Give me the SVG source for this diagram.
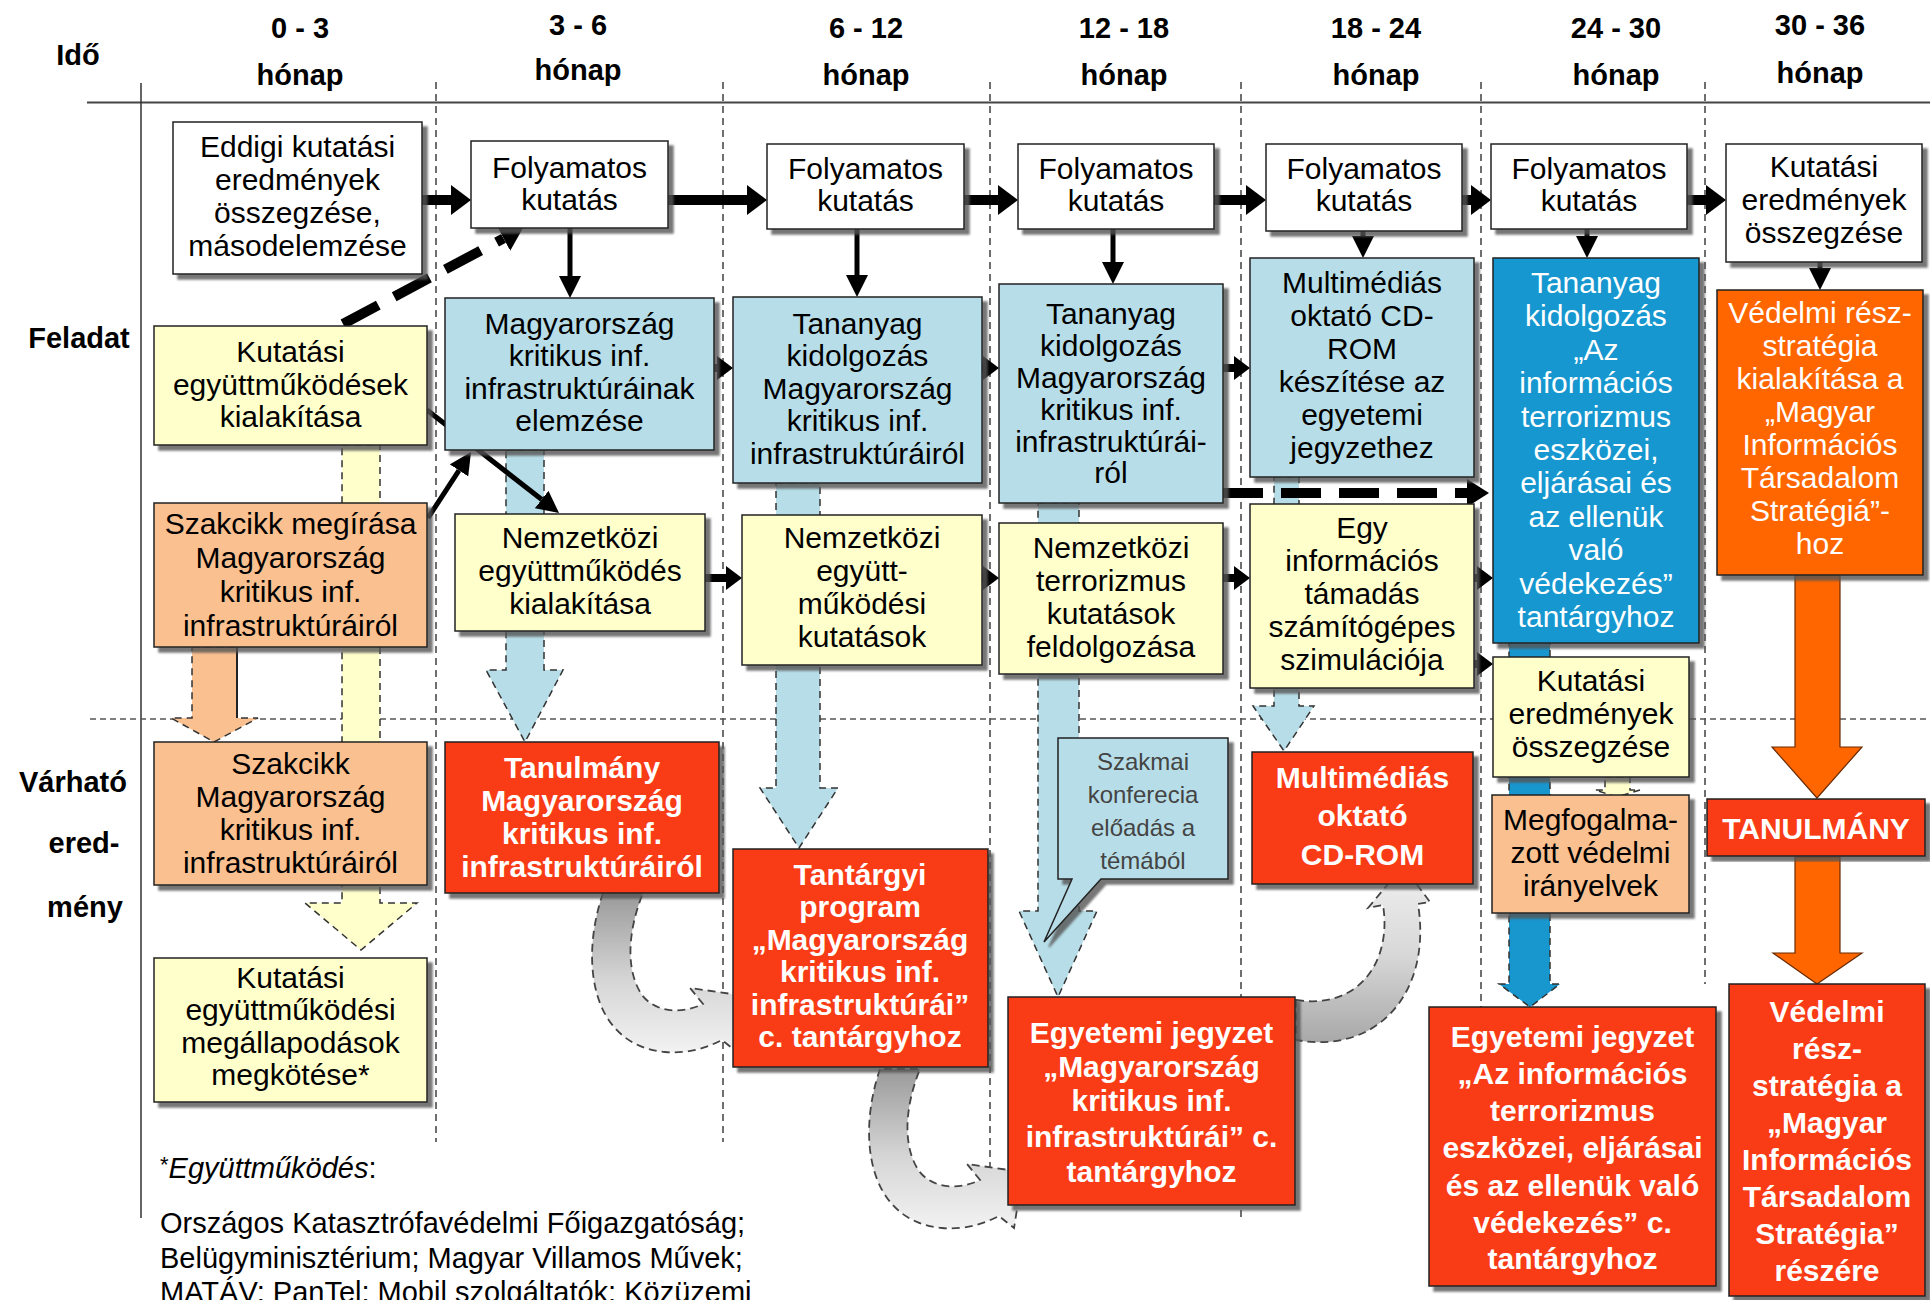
<svg xmlns="http://www.w3.org/2000/svg" width="1930" height="1300" viewBox="0 0 1930 1300">
<defs>
<style>
.bx{stroke:#222;stroke-width:1.5;filter:url(#sh)}
.w{fill:#fff}.y{fill:#ffffcc}.lb{fill:#b7dee8}.db{fill:#1897cf}.pc{fill:#fac090}.rd{fill:#f93b12}.or{fill:#ff6600}
.t{font-family:"Liberation Sans",Arial,sans-serif;font-size:30px;text-anchor:middle;fill:#000}
.tw{fill:#fff}
.tb{font-weight:bold;fill:#fff}
.hd{font-family:"Liberation Sans",Arial,sans-serif;font-size:29px;font-weight:bold;text-anchor:middle;fill:#000}
.cl{font-family:"Liberation Sans",Arial,sans-serif;font-size:24px;text-anchor:middle;fill:#444}
.fn{font-family:"Liberation Sans",Arial,sans-serif;font-size:29px;fill:#000}
.div{stroke:#222;stroke-width:1.3;stroke-dasharray:7 5;fill:none}
.ba{stroke:#333;stroke-width:1.5;stroke-dasharray:7 5}
.ora{fill:#ff6600;stroke:#6a2a00;stroke-width:1.2}
.k10{stroke:#000;stroke-width:10;fill:none}
.k5{stroke:#000;stroke-width:5;fill:none}
.k8{stroke:#000;stroke-width:8;fill:none}
.kd{stroke:#000;stroke-width:10;fill:none;stroke-dasharray:40 18}
.ga{stroke:#444;stroke-width:1.8;stroke-dasharray:8 5}
</style>
<filter id="sh" x="-5%" y="-5%" width="115%" height="115%">
<feDropShadow dx="5" dy="5" stdDeviation="1.2" flood-color="#555" flood-opacity="0.8"/>
</filter>
<linearGradient id="gg1" x1="0" y1="0" x2="0" y2="1">
<stop offset="0" stop-color="#9a9a9a"/><stop offset="0.55" stop-color="#d6d6d6"/><stop offset="1" stop-color="#f2f2f2"/>
</linearGradient>
<linearGradient id="gg2" x1="0" y1="1" x2="0" y2="0">
<stop offset="0" stop-color="#a8a8a8"/><stop offset="0.5" stop-color="#d8d8d8"/><stop offset="1" stop-color="#f0f0f0"/>
</linearGradient>
<marker id="ah" markerUnits="userSpaceOnUse" markerWidth="20" markerHeight="30" refX="0" refY="15" orient="auto" viewBox="0 0 20 30"><path d="M0,0 L20,15 L0,30 Z" fill="#000"/></marker>
<marker id="av" markerUnits="userSpaceOnUse" markerWidth="22" markerHeight="22" refX="0" refY="11" orient="auto" viewBox="0 0 22 22"><path d="M0,0 L22,11 L0,22 Z" fill="#000"/></marker>
<marker id="as" markerUnits="userSpaceOnUse" markerWidth="16" markerHeight="24" refX="0" refY="12" orient="auto" viewBox="0 0 16 24"><path d="M0,0 L16,12 L0,24 Z" fill="#000"/></marker>
<marker id="ad" markerUnits="userSpaceOnUse" markerWidth="22" markerHeight="28" refX="0" refY="14" orient="auto" viewBox="0 0 22 28"><path d="M0,0 L22,14 L0,28 Z" fill="#000"/></marker>
</defs>
<rect width="1930" height="1300" fill="#fff"/>

<g id="grid">
<line x1="87" y1="102.5" x2="1930" y2="102.5" stroke="#444" stroke-width="2"/>
<line x1="141" y1="83" x2="141" y2="1218" stroke="#333" stroke-width="1.5"/>
<line class="div" x1="436" y1="82" x2="436" y2="1142"/>
<line class="div" x1="723" y1="82" x2="723" y2="1142"/>
<line class="div" x1="990" y1="82" x2="990" y2="1222"/>
<line class="div" x1="1241" y1="82" x2="1241" y2="1222"/>
<line class="div" x1="1481" y1="82" x2="1481" y2="1007"/>
<line class="div" x1="1705" y1="82" x2="1705" y2="984"/>
<line x1="90" y1="719" x2="1930" y2="719" stroke="#555" stroke-width="1.5" stroke-dasharray="6 4"/>
</g>

<g id="labels">
<text class="hd" x="78" y="65">Idő</text>
<text class="hd" x="79" y="348">Feladat</text>
<text class="hd" x="73" y="792">Várható</text>
<text class="hd" x="84" y="853">ered-</text>
<text class="hd" x="85" y="917">mény</text>
<text class="hd" x="300" y="38">0 - 3</text><text class="hd" x="300" y="85">hónap</text>
<text class="hd" x="578" y="35">3 - 6</text><text class="hd" x="578" y="80">hónap</text>
<text class="hd" x="866" y="38">6 - 12</text><text class="hd" x="866" y="85">hónap</text>
<text class="hd" x="1124" y="38">12 - 18</text><text class="hd" x="1124" y="85">hónap</text>
<text class="hd" x="1376" y="38">18 - 24</text><text class="hd" x="1376" y="85">hónap</text>
<text class="hd" x="1616" y="38">24 - 30</text><text class="hd" x="1616" y="85">hónap</text>
<text class="hd" x="1820" y="35">30 - 36</text><text class="hd" x="1820" y="83">hónap</text>
</g>

<g id="connectors">
<path class="y ba" d="M342,445 L380,445 L380,903 L417,903 L361,950 L305,903 L342,903 Z"/>
<path class="pc ba" d="M192,647 L237,647 L237,718 L258,718 L214,742 L171,718 L192,718 Z"/>
<line x1="237" y1="647" x2="237" y2="718" stroke="#222" stroke-width="2"/>
<path class="lb ba" d="M506,450 L544,450 L544,670 L563,670 L525,742 L486,670 L506,670 Z"/>
<path class="lb ba" d="M776,483 L820,483 L820,788 L838,788 L799,848 L760,788 L776,788 Z"/>
<path class="lb ba" d="M1038,503 L1079,503 L1079,911 L1097,911 L1058,997 L1019,911 L1038,911 Z"/>
<path class="lb ba" d="M1274,477 L1299,477 L1299,706 L1314,706 L1284,751 L1253,706 L1274,706 Z"/>
<path class="db ba" d="M1509,643 L1550,643 L1550,984 L1560,984 L1530,1007 L1499,984 L1509,984 Z"/>
<path class="y ba" d="M1605,777 L1630,777 L1630,790 L1640,790 L1617,797 L1595,790 L1605,790 Z"/>
<path class="ora" d="M1795,575 L1840,575 L1840,747 L1862,747 L1817,798 L1772,747 L1795,747 Z"/>
<path class="ora" d="M1795,857 L1840,857 L1840,953 L1862,953 L1817,984 L1773,953 L1795,953 Z"/>
<path fill="url(#gg1)" class="ga" d="M603,893 C580,960 590,1045 665,1052 C690,1054 708,1047 722,1040 L737,1052 L746,996 L690,988 L703,1004 C680,1015 655,1012 642,995 C625,970 628,930 643,893 Z"/>
<path fill="url(#gg1)" class="ga" transform="translate(277,176)" d="M603,893 C580,960 590,1045 665,1052 C690,1054 708,1047 722,1040 L737,1052 L746,996 L690,988 L703,1004 C680,1015 655,1012 642,995 C625,970 628,930 643,893 Z"/>
<path fill="url(#gg2)" class="ga" d="M1296,1000 C1360,1010 1392,960 1383,905 L1368,908 L1403,866 L1430,902 L1418,904 C1432,990 1380,1055 1296,1040 Z"/>
<line class="k10" x1="422" y1="200" x2="451" y2="200" marker-end="url(#ah)"/>
<line class="k10" x1="668" y1="200" x2="747" y2="200" marker-end="url(#ah)"/>
<line class="k10" x1="964" y1="200" x2="998" y2="200" marker-end="url(#ah)"/>
<line class="k10" x1="1214" y1="200" x2="1246" y2="200" marker-end="url(#ah)"/>
<line class="k10" x1="1462" y1="200" x2="1471" y2="200" marker-end="url(#ah)"/>
<line class="k10" x1="1687" y1="200" x2="1706" y2="200" marker-end="url(#ah)"/>
<line class="k5" x1="570" y1="228" x2="570" y2="276" marker-end="url(#av)"/>
<line class="k5" x1="857" y1="229" x2="857" y2="275" marker-end="url(#av)"/>
<line class="k5" x1="1113" y1="229" x2="1113" y2="262" marker-end="url(#av)"/>
<line class="k5" x1="1363" y1="231" x2="1363" y2="236" marker-end="url(#av)"/>
<line class="k5" x1="1587" y1="229" x2="1587" y2="236" marker-end="url(#av)"/>
<line class="k5" x1="1820" y1="262" x2="1820" y2="268" marker-end="url(#av)"/>
<line class="k8" x1="714" y1="368" x2="717" y2="368" marker-end="url(#as)"/>
<line class="k8" x1="982" y1="368" x2="983" y2="368" marker-end="url(#as)"/>
<line class="k8" x1="1223" y1="368" x2="1234" y2="368" marker-end="url(#as)"/>
<line class="k8" x1="705" y1="578" x2="726" y2="578" marker-end="url(#as)"/>
<line class="k8" x1="982" y1="578" x2="983" y2="578" marker-end="url(#as)"/>
<line class="k8" x1="1223" y1="578" x2="1234" y2="578" marker-end="url(#as)"/>
<line class="k8" x1="1474" y1="578" x2="1477" y2="578" marker-end="url(#as)"/>
<line class="k8" x1="1474" y1="664" x2="1477" y2="664" marker-end="url(#as)"/>
<line class="k5" x1="427" y1="410" x2="541.7" y2="499.5" marker-end="url(#av)"/>
<line class="k5" x1="428" y1="518" x2="459" y2="470.4" marker-end="url(#av)"/>
<line class="kd" x1="343" y1="324" x2="503.6" y2="238.4" marker-end="url(#ad)"/>
<line class="kd" x1="1223" y1="493" x2="1467" y2="493" marker-end="url(#ad)"/>
</g>

<g id="n-eddigi"><rect class="bx w" x="173" y="122" width="249" height="152"/>
<text class="t"><tspan x="297.5" y="157">Eddigi kutatási</tspan><tspan x="297.5" y="190">eredmények</tspan><tspan x="297.5" y="223">összegzése,</tspan><tspan x="297.5" y="256">másodelemzése</tspan></text></g>
<g id="n-foly1"><rect class="bx w" x="471" y="141" width="197" height="87"/>
<text class="t"><tspan x="569.5" y="178">Folyamatos</tspan><tspan x="569.5" y="210">kutatás</tspan></text></g>
<g id="n-foly2"><rect class="bx w" x="767" y="144" width="197" height="85"/>
<text class="t"><tspan x="865.5" y="179">Folyamatos</tspan><tspan x="865.5" y="211">kutatás</tspan></text></g>
<g id="n-foly3"><rect class="bx w" x="1018" y="144" width="196" height="85"/>
<text class="t"><tspan x="1116" y="179">Folyamatos</tspan><tspan x="1116" y="211">kutatás</tspan></text></g>
<g id="n-foly4"><rect class="bx w" x="1266" y="144" width="196" height="87"/>
<text class="t"><tspan x="1364" y="179">Folyamatos</tspan><tspan x="1364" y="211">kutatás</tspan></text></g>
<g id="n-foly5"><rect class="bx w" x="1491" y="144" width="196" height="85"/>
<text class="t"><tspan x="1589" y="179">Folyamatos</tspan><tspan x="1589" y="211">kutatás</tspan></text></g>
<g id="n-kutossz1"><rect class="bx w" x="1726" y="144" width="196" height="118"/>
<text class="t"><tspan x="1824" y="177">Kutatási</tspan><tspan x="1824" y="210">eredmények</tspan><tspan x="1824" y="243">összegzése</tspan></text></g>

<g id="n-egyuttm"><rect class="bx y" x="154" y="326" width="273" height="119"/>
<text class="t"><tspan x="290.5" y="362">Kutatási</tspan><tspan x="290.5" y="395">együttműködések</tspan><tspan x="290.5" y="427">kialakítása</tspan></text></g>
<g id="n-elemzes"><rect class="bx lb" x="445" y="298" width="269" height="152"/>
<text class="t"><tspan x="579.5" y="334">Magyarország</tspan><tspan x="579.5" y="366">kritikus inf.</tspan><tspan x="579.5" y="399">infrastruktúráinak</tspan><tspan x="579.5" y="431">elemzése</tspan></text></g>
<g id="n-tananyag1"><rect class="bx lb" x="733" y="297" width="249" height="186"/>
<text class="t"><tspan x="857.5" y="334">Tananyag</tspan><tspan x="857.5" y="366">kidolgozás</tspan><tspan x="857.5" y="399">Magyarország</tspan><tspan x="857.5" y="431">kritikus inf.</tspan><tspan x="857.5" y="464">infrastruktúráiról</tspan></text></g>
<g id="n-tananyag2"><rect class="bx lb" x="999" y="284" width="224" height="219"/>
<text class="t"><tspan x="1111" y="324">Tananyag</tspan><tspan x="1111" y="356">kidolgozás</tspan><tspan x="1111" y="388">Magyarország</tspan><tspan x="1111" y="420">kritikus inf.</tspan><tspan x="1111" y="452">infrastruktúrái-</tspan><tspan x="1111" y="483">ról</tspan></text></g>
<g id="n-multi1"><rect class="bx lb" x="1250" y="258" width="224" height="219"/>
<text class="t"><tspan x="1362" y="293">Multimédiás</tspan><tspan x="1362" y="326">oktató CD-</tspan><tspan x="1362" y="359">ROM</tspan><tspan x="1362" y="392">készítése az</tspan><tspan x="1362" y="425">egyetemi</tspan><tspan x="1362" y="458">jegyzethez</tspan></text></g>
<g id="n-tananyag3"><rect class="bx db" x="1493" y="258" width="206" height="385"/>
<text class="t tw"><tspan x="1596" y="293">Tananyag</tspan><tspan x="1596" y="326">kidolgozás</tspan><tspan x="1596" y="360">„Az</tspan><tspan x="1596" y="393">információs</tspan><tspan x="1596" y="427">terrorizmus</tspan><tspan x="1596" y="460">eszközei,</tspan><tspan x="1596" y="493">eljárásai és</tspan><tspan x="1596" y="527">az ellenük</tspan><tspan x="1596" y="560">való</tspan><tspan x="1596" y="594">védekezés”</tspan><tspan x="1596" y="627">tantárgyhoz</tspan></text></g>
<g id="n-vedelmi1"><rect class="bx or" x="1717" y="290" width="206" height="285"/>
<text class="t tw"><tspan x="1820" y="323">Védelmi rész-</tspan><tspan x="1820" y="356">stratégia</tspan><tspan x="1820" y="389">kialakítása a</tspan><tspan x="1820" y="422">„Magyar</tspan><tspan x="1820" y="455">Információs</tspan><tspan x="1820" y="488">Társadalom</tspan><tspan x="1820" y="521">Stratégiá”-</tspan><tspan x="1820" y="554">hoz</tspan></text></g>

<g id="n-szakcikk1"><rect class="bx pc" x="154" y="503" width="273" height="144"/>
<text class="t"><tspan x="290.5" y="534">Szakcikk megírása</tspan><tspan x="290.5" y="568">Magyarország</tspan><tspan x="290.5" y="602">kritikus inf.</tspan><tspan x="290.5" y="636">infrastruktúráiról</tspan></text></g>
<g id="n-nemz1"><rect class="bx y" x="455" y="514" width="250" height="117"/>
<text class="t"><tspan x="580" y="548">Nemzetközi</tspan><tspan x="580" y="581">együttműködés</tspan><tspan x="580" y="614">kialakítása</tspan></text></g>
<g id="n-nemz2"><rect class="bx y" x="742" y="515" width="240" height="150"/>
<text class="t"><tspan x="862" y="548">Nemzetközi</tspan><tspan x="862" y="581">együtt-</tspan><tspan x="862" y="614">működési</tspan><tspan x="862" y="647">kutatások</tspan></text></g>
<g id="n-nemz3"><rect class="bx y" x="999" y="523" width="224" height="151"/>
<text class="t"><tspan x="1111" y="558">Nemzetközi</tspan><tspan x="1111" y="591">terrorizmus</tspan><tspan x="1111" y="624">kutatások</tspan><tspan x="1111" y="657">feldolgozása</tspan></text></g>
<g id="n-szimul"><rect class="bx y" x="1250" y="504" width="224" height="184"/>
<text class="t"><tspan x="1362" y="538">Egy</tspan><tspan x="1362" y="571">információs</tspan><tspan x="1362" y="604">támadás</tspan><tspan x="1362" y="637">számítógépes</tspan><tspan x="1362" y="670">szimulációja</tspan></text></g>
<g id="n-kutossz2"><rect class="bx y" x="1493" y="657" width="196" height="120"/>
<text class="t"><tspan x="1591" y="691">Kutatási</tspan><tspan x="1591" y="724">eredmények</tspan><tspan x="1591" y="757">összegzése</tspan></text></g>
<g id="n-iranyelvek"><rect class="bx pc" x="1492" y="795" width="197" height="118"/>
<text class="t"><tspan x="1590.5" y="830">Megfogalma-</tspan><tspan x="1590.5" y="863">zott védelmi</tspan><tspan x="1590.5" y="896">irányelvek</tspan></text></g>

<g id="n-szakcikk2"><rect class="bx pc" x="154" y="742" width="273" height="143"/>
<text class="t"><tspan x="290.5" y="774">Szakcikk</tspan><tspan x="290.5" y="807">Magyarország</tspan><tspan x="290.5" y="840">kritikus inf.</tspan><tspan x="290.5" y="873">infrastruktúráiról</tspan></text></g>
<g id="n-tanulmany1"><rect class="bx rd" x="445" y="742" width="274" height="151"/>
<text class="t tb"><tspan x="582" y="778">Tanulmány</tspan><tspan x="582" y="811">Magyarország</tspan><tspan x="582" y="844">kritikus inf.</tspan><tspan x="582" y="877">infrastruktúráiról</tspan></text></g>
<g id="n-tantargyi"><rect class="bx rd" x="733" y="849" width="255" height="218"/>
<text class="t tb"><tspan x="860" y="885">Tantárgyi</tspan><tspan x="860" y="917">program</tspan><tspan x="860" y="950">„Magyarország</tspan><tspan x="860" y="982">kritikus inf.</tspan><tspan x="860" y="1015">infrastruktúrái”</tspan><tspan x="860" y="1047">c. tantárgyhoz</tspan></text></g>
<g id="n-konferencia"><path class="bx lb" d="M1058,738 H1228 V879 H1101 L1044,942 L1072,879 H1058 Z"/>
<text class="cl"><tspan x="1143" y="770">Szakmai</tspan><tspan x="1143" y="803">konferecia</tspan><tspan x="1143" y="836">előadás a</tspan><tspan x="1143" y="869">témából</tspan></text></g>
<g id="n-cdrom"><rect class="bx rd" x="1252" y="752" width="221" height="132"/>
<text class="t tb"><tspan x="1362.5" y="788">Multimédiás</tspan><tspan x="1362.5" y="826">oktató</tspan><tspan x="1362.5" y="865">CD-ROM</tspan></text></g>
<g id="n-tanulmany2"><rect class="bx rd" x="1707" y="799" width="218" height="57"/>
<text class="t tb" x="1816" y="839">TANULMÁNY</text></g>
<g id="n-megallapodas"><rect class="bx y" x="154" y="958" width="273" height="144"/>
<text class="t"><tspan x="290.5" y="988">Kutatási</tspan><tspan x="290.5" y="1020">együttműködési</tspan><tspan x="290.5" y="1053">megállapodások</tspan><tspan x="290.5" y="1085">megkötése*</tspan></text></g>
<g id="n-jegyzet1"><rect class="bx rd" x="1008" y="997" width="287" height="208"/>
<text class="t tb"><tspan x="1151.5" y="1043">Egyetemi jegyzet</tspan><tspan x="1151.5" y="1077">„Magyarország</tspan><tspan x="1151.5" y="1111">kritikus inf.</tspan><tspan x="1151.5" y="1147">infrastruktúrái” c.</tspan><tspan x="1151.5" y="1182">tantárgyhoz</tspan></text></g>
<g id="n-jegyzet2"><rect class="bx rd" x="1429" y="1007" width="287" height="279"/>
<text class="t tb"><tspan x="1572.5" y="1047">Egyetemi jegyzet</tspan><tspan x="1572.5" y="1084">„Az információs</tspan><tspan x="1572.5" y="1121">terrorizmus</tspan><tspan x="1572.5" y="1158">eszközei, eljárásai</tspan><tspan x="1572.5" y="1196">és az ellenük való</tspan><tspan x="1572.5" y="1233">védekezés” c.</tspan><tspan x="1572.5" y="1269">tantárgyhoz</tspan></text></g>
<g id="n-vedelmi2"><rect class="bx rd" x="1729" y="984" width="196" height="312"/>
<text class="t tb"><tspan x="1827" y="1022">Védelmi</tspan><tspan x="1827" y="1059">rész-</tspan><tspan x="1827" y="1096">stratégia a</tspan><tspan x="1827" y="1133">„Magyar</tspan><tspan x="1827" y="1170">Információs</tspan><tspan x="1827" y="1207">Társadalom</tspan><tspan x="1827" y="1244">Stratégia”</tspan><tspan x="1827" y="1281">részére</tspan></text></g>

<g id="footnote">
<text class="fn" x="160" y="1178"><tspan font-size="22" dy="-6">*</tspan><tspan font-style="italic" dy="6">Együttműködés</tspan>:</text>
<text class="fn" x="160" y="1233">Országos Katasztrófavédelmi Főigazgatóság;</text>
<text class="fn" x="160" y="1268">Belügyminisztérium; Magyar Villamos Művek;</text>
<text class="fn" x="160" y="1302">MATÁV; PanTel; Mobil szolgáltatók; Közüzemi</text>
</g>
</svg>
